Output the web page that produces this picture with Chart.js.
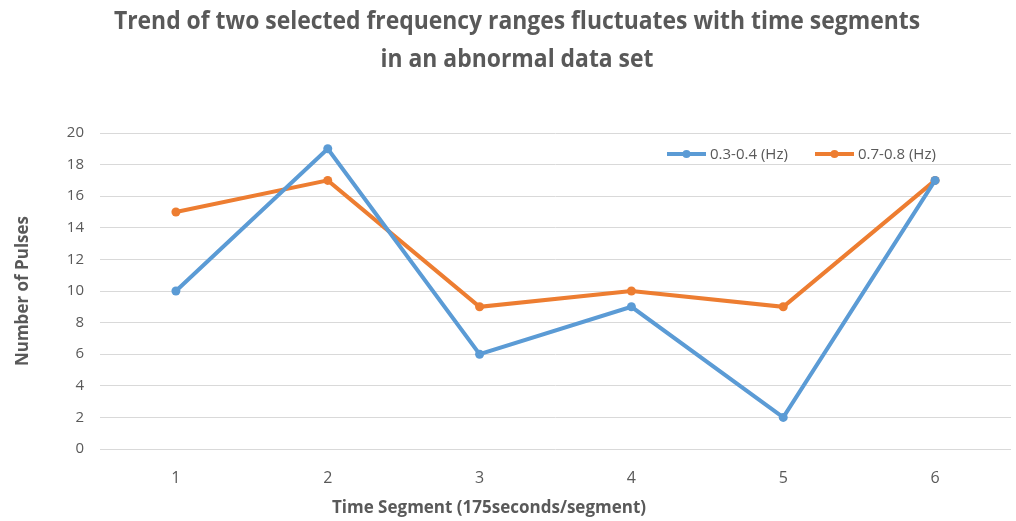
<!DOCTYPE html>
<html>
<head>
<meta charset="utf-8">
<script src="https://cdn.jsdelivr.net/npm/chart.js@4.4.1/dist/chart.umd.min.js"></script>
<style>
  html, body { margin: 0; padding: 0; background: #ffffff; }
  #wrap { width: 1016px; height: 521px; }
</style>
</head>
<body>
<div id="wrap"><canvas id="c" width="1016" height="521"></canvas></div>
<script>
// Time segments along the x axis
const segments = ['1', '2', '3', '4', '5', '6'];
// Pulse counts per segment for each frequency band
const band03to04 = [10, 19, 6, 9, 2, 17];
const band07to08 = [15, 17, 9, 10, 9, 17];
const seriesNames = ['0.3-0.4 (Hz)', '0.7-0.8 (Hz)'];
const titleLines = ['Trend of two selected frequency ranges fluctuates with time segments', 'in an abnormal data set'];
const xTitle = 'Time Segment (175seconds/segment)';
const yTitle = 'Number of Pulses';

const BLUE = '#5B9BD5';
const ORANGE = '#ED7D31';
const TEXT = '#595959';
const SANS = '"Open Sans", "Noto Sans", sans-serif';

// Chart heading and x-axis caption, drawn slightly condensed
const captions = {
  id: 'captions',
  afterDraw(chart) {
    const ctx = chart.ctx;
    ctx.save();
    ctx.fillStyle = TEXT;
    ctx.textAlign = 'center';
    ctx.textBaseline = 'middle';
    ctx.font = 'bold 25px ' + SANS;
    const squeeze = 0.916;
    titleLines.forEach((line, i) => {
      ctx.save();
      ctx.translate(517, 22 + i * 38);
      ctx.scale(squeeze, 1);
      ctx.fillText(line, 0, 0);
      ctx.restore();
    });
    ctx.font = 'bold 17px ' + SANS;
    ctx.fillText(xTitle, 489, 508);
    ctx.restore();
  }
};

// Legend drawn inside the top-right of the plot area, line + marker style
const innerLegend = {
  id: 'innerLegend',
  afterDraw(chart) {
    const ctx = chart.ctx;
    const area = chart.chartArea;
    const y = area.top + 21;
    const starts = [area.left + 567, area.left + 715];
    ctx.save();
    ctx.font = '15px ' + SANS;
    ctx.textBaseline = 'middle';
    ctx.textAlign = 'left';
    chart.data.datasets.forEach((ds, i) => {
      const x0 = starts[i];
      ctx.strokeStyle = ds.borderColor;
      ctx.lineWidth = 4;
      ctx.lineCap = 'butt';
      ctx.beginPath();
      ctx.moveTo(x0, y);
      ctx.lineTo(x0 + 39, y);
      ctx.stroke();
      ctx.fillStyle = ds.borderColor;
      ctx.beginPath();
      ctx.arc(x0 + 19.5, y, 4, 0, Math.PI * 2);
      ctx.fill();
      ctx.fillStyle = TEXT;
      ctx.fillText(ds.label, x0 + 43, y + 1);
    });
    ctx.restore();
  }
};

new Chart(document.getElementById('c'), {
  type: 'line',
  data: {
    labels: segments,
    datasets: [
      {
        label: seriesNames[0],
        data: band03to04,
        borderColor: BLUE,
        backgroundColor: BLUE,
        borderWidth: 4,
        pointRadius: 4.5,
        pointHoverRadius: 4.5,
        pointBorderWidth: 0,
        tension: 0
      },
      {
        label: seriesNames[1],
        data: band07to08,
        borderColor: ORANGE,
        backgroundColor: ORANGE,
        borderWidth: 4,
        pointRadius: 4.5,
        pointHoverRadius: 4.5,
        pointBorderWidth: 0,
        tension: 0
      }
    ]
  },
  options: {
    responsive: false,
    animation: false,
    events: [],
    layout: { padding: { left: 0, right: 5, top: 133, bottom: 0 } },
    plugins: {
      legend: { display: false },
      tooltip: { enabled: false },
      title: { display: false }
    },
    scales: {
      x: {
        offset: true,
        grid: { display: false, drawTicks: false },
        border: { display: false },
        ticks: {
          color: TEXT,
          font: { family: SANS, size: 16 },
          padding: 20
        },
        afterFit(scale) { scale.height = 72; }
      },
      y: {
        min: 0,
        max: 20,
        ticks: {
          stepSize: 2,
          color: TEXT,
          font: { family: SANS, size: 15 },
          padding: 16
        },
        grid: { color: '#D9D9D9', lineWidth: 1, drawTicks: false },
        border: { display: false },
        title: {
          display: true,
          text: yTitle,
          color: TEXT,
          font: { family: SANS, size: 17, weight: 'bold', lineHeight: 1.2 },
          padding: { top: 13, bottom: 0 }
        },
        afterFit(scale) { scale.width = 100; }
      }
    }
  },
  plugins: [captions, innerLegend]
});
</script>
</body>
</html>
